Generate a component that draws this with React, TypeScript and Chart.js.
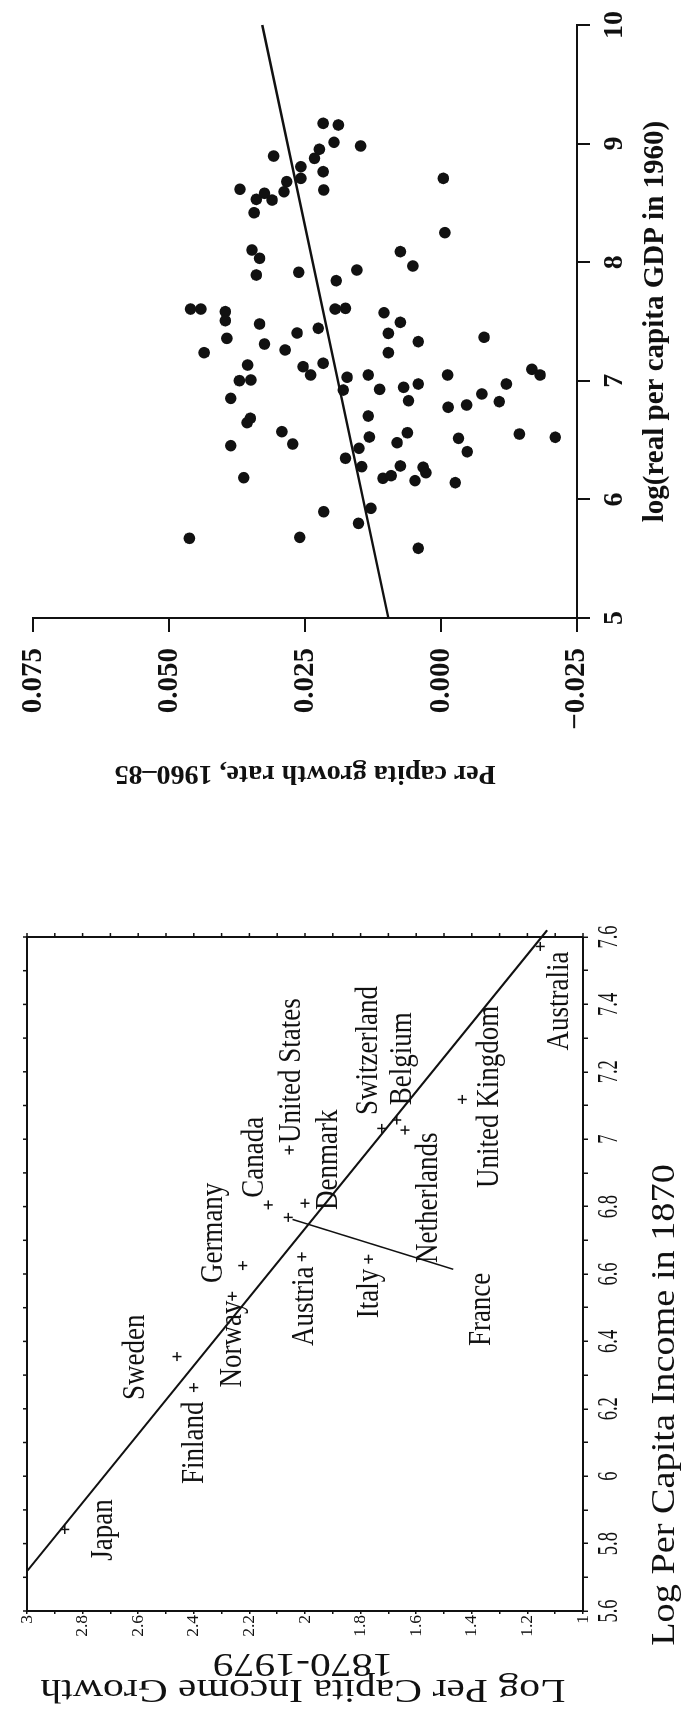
import React, { useEffect, useRef } from "react";
import { Chart, registerables } from "chart.js";

Chart.register(...registerables);

const SERIF = "'Liberation Serif', 'Times New Roman', serif";
const INK = "#111";

// ---------- Upper figure: per capita growth 1960-85 vs log real per capita GDP 1960 ----------
const gdp1960: number[] = [
  9.171, 9.157, 9.011, 8.98, 8.895, 8.952, 8.876, 8.805, 8.763, 8.707,
  8.679, 8.594, 8.609, 8.615, 8.53, 8.581, 8.524, 8.417, 8.103, 8.033,
  7.892, 7.915, 7.844, 7.934, 7.605, 7.605, 7.583, 7.507, 7.479, 7.605,
  7.611, 7.443, 7.403, 8.707, 8.249, 8.089, 7.968, 7.574, 7.493, 7.358,
  7.31, 7.237, 7.26, 7.133, 7.001, 7.007, 7.119, 7.049, 7.148, 7.03,
  6.922, 7.049, 6.852, 6.647, 6.684, 6.571, 6.467, 6.453, 6.183, 6.703,
  6.526, 6.431, 6.347, 6.276, 5.896, 5.798, 5.672, 5.68, 7.4, 7.33,
  7.367, 7.237, 6.928, 6.945, 6.973, 6.832, 7.049, 7.097, 7.049, 6.973,
  6.889, 6.824, 6.777, 6.796, 6.562, 6.478, 6.515, 6.402, 6.551, 6.524,
  6.282, 6.271, 6.225, 6.178, 6.2, 6.158, 6.141, 5.925, 5.588,
];
const growth1960to85: number[] = [
  0.0217, 0.0189, 0.0197, 0.0148, 0.0308, 0.0224, 0.0233, 0.0258, 0.0217, 0.0258,
  0.0284, 0.0289, 0.0216, 0.037, 0.034, 0.0325, 0.0311, 0.0344, 0.0348, 0.0334,
  0.034, 0.0262, 0.0193, 0.0155, 0.0461, 0.0442, 0.0397, 0.0397, 0.0334, 0.0195,
  0.0176, 0.0226, 0.0265, -0.0004, -0.0007, 0.0075, 0.0052, 0.0105, 0.0075, 0.0394,
  0.0325, 0.0436, 0.0287, 0.0356, 0.0371, 0.035, 0.0254, 0.024, 0.0217, 0.0173,
  0.018, 0.0134, 0.0387, 0.0357, 0.0351, 0.0293, 0.0273, 0.0387, 0.0363, 0.0134,
  0.0132, 0.0151, 0.0176, 0.0146, 0.0216, 0.0152, 0.0463, 0.026, 0.0097, 0.0042,
  -0.0079, 0.0097, 0.0113, 0.0069, 0.0042, 0.006, -0.0012, -0.0167, -0.0182, -0.012,
  -0.0075, -0.0107, -0.0013, -0.0047, 0.0062, 0.0081, -0.0032, -0.0048, -0.0144, -0.021,
  0.0075, 0.0033, 0.0028, 0.0107, 0.0092, 0.0048, -0.0026, 0.0129, 0.0042,
];
const fitGdpEnds: number[] = [5, 10];
const fitGrowthEnds: number[] = [0.0097, 0.0329];

// ---------- Lower figure: log per capita income growth 1870-1979 vs log income 1870 ----------
const countries: string[] = [
  "Japan", "Sweden", "Finland", "Norway", "Germany", "Canada", "France", "Denmark",
  "Austria", "Italy", "United States", "Switzerland", "Belgium", "Netherlands",
  "United Kingdom", "Australia",
];
const logIncome1870: number[] = [
  5.842, 6.355, 6.263, 6.534, 6.625, 6.805, 6.768, 6.81,
  6.651, 6.644, 6.968, 7.032, 7.057, 7.027, 7.118, 7.572,
];
const logGrowth1870to1979: number[] = [
  2.864, 2.46, 2.4, 2.262, 2.224, 2.132, 2.06, 2.0,
  2.012, 1.772, 2.057, 1.724, 1.67, 1.64, 1.434, 1.154,
];
// where each country name begins (data units)
const labelAnchorIncome: number[] = [
  5.749, 6.226, 5.977, 6.263, 6.573, 6.826, 6.386, 6.79,
  6.386, 6.469, 6.989, 7.072, 7.101, 6.633, 6.855, 7.263,
];
const labelAnchorGrowth: number[] = [
  2.696, 2.579, 2.367, 2.23, 2.3, 2.151, 1.334, 1.885,
  1.971, 1.737, 2.018, 1.741, 1.62, 1.525, 1.306, 1.054,
];
const fitIncomeEnds: number[] = [5.72, 7.62];
const fitLogGrowthEnds: number[] = [2.998, 1.129];
const leaderIncome: number[] = [6.762, 6.614];
const leaderGrowth: number[] = [2.045, 1.467];
const lowerXTitle = "Log Per Capita Income in 1870";
const lowerYTitle: string[] = ["Log Per Capita Income Growth", "1870-1979"];

// ---------- configs ----------
function topConfig(): any {
  const pts = gdp1960.map((x, i) => ({ x, y: growth1960to85[i] }));
  const fit = fitGdpEnds.map((x, i) => ({ x, y: fitGrowthEnds[i] }));
  return {
    type: "scatter",
    data: {
      datasets: [
        { data: fit, showLine: true, borderColor: INK, borderWidth: 2.5, pointRadius: 0, clip: false },
        { data: pts, pointRadius: 5.8, pointBackgroundColor: INK, pointBorderColor: INK, pointBorderWidth: 0 },
      ],
    },
    options: {
      responsive: false,
      animation: false,
      devicePixelRatio: 1,
      layout: { padding: { left: 0, right: 25, top: 33, bottom: 0 } },
      plugins: { legend: { display: false }, tooltip: { enabled: false } },
      scales: {
        x: {
          type: "linear",
          min: 5,
          max: 10,
          afterFit: (s: any) => { s.height = 109; },
          ticks: {
            stepSize: 1, autoSkip: false, maxRotation: 0, minRotation: 0, padding: 8, color: INK,
            font: { family: SERIF, size: 28, weight: "bold" },
            callback: (v: number) => String(Math.round(v)),
          },
          grid: { display: true, drawOnChartArea: false, drawTicks: true, tickLength: 13, color: INK, lineWidth: 2 },
          border: { display: true, color: INK, width: 2 },
          title: {
            display: true, text: "log(real per capita GDP in 1960)", color: INK,
            font: { family: SERIF, size: 29, weight: "bold", lineHeight: 1.2 }, padding: { top: 0, bottom: 13 },
          },
        },
        y: {
          type: "linear",
          min: -0.025,
          max: 0.075,
          afterFit: (s: any) => { s.width = 182; },
          ticks: {
            stepSize: 0.025, autoSkip: false, padding: 16, color: INK,
            font: { family: SERIF, size: 29, weight: "bold" },
            callback: (v: number) => (v < -1e-9 ? "\u2212" : "") + Math.abs(v).toFixed(3),
          },
          grid: { display: true, drawOnChartArea: false, drawTicks: true, tickLength: 14, color: INK, lineWidth: 2 },
          border: { display: true, color: INK, width: 2 },
          title: {
            display: true, text: "Per capita growth rate, 1960\u201385", color: INK,
            font: { family: SERIF, size: 28, weight: "bold", lineHeight: 1.2 }, padding: { top: 10, bottom: 0 },
          },
        },
      },
    },
  };
}

const lowerDecor = {
  id: "lowerDecor",
  afterDraw(chart: any) {
    const { ctx, chartArea: a } = chart;
    const xs = chart.scales.x;
    const ys = chart.scales.y;
    ctx.save();
    ctx.strokeStyle = INK;
    ctx.fillStyle = INK;
    // remaining two sides of the frame
    ctx.lineWidth = 2;
    ctx.beginPath();
    ctx.moveTo(a.left, a.top);
    ctx.lineTo(a.right, a.top);
    ctx.lineTo(a.right, a.bottom);
    ctx.stroke();
    // mirrored tick marks
    ctx.lineWidth = 1.5;
    xs.ticks.forEach((t: any) => {
      const px = xs.getPixelForValue(t.value);
      ctx.beginPath();
      ctx.moveTo(px, a.top);
      ctx.lineTo(px, a.top - 4);
      ctx.stroke();
    });
    ys.ticks.forEach((t: any) => {
      const py = ys.getPixelForValue(t.value);
      ctx.beginPath();
      ctx.moveTo(a.right, py);
      ctx.lineTo(a.right + 4, py);
      ctx.stroke();
    });
    // x tick labels (tall figures)
    ctx.font = `18.5px ${SERIF}`;
    ctx.textAlign = "center";
    ctx.textBaseline = "alphabetic";
    xs.ticks.forEach((t: any) => {
      const k = Math.round(t.value * 10);
      if (k % 2 !== 0) return;
      ctx.save();
      ctx.translate(xs.getPixelForValue(t.value), a.bottom + 33.5);
      ctx.scale(1, 1.55);
      ctx.fillText(String(k / 10), 0, 0);
      ctx.restore();
    });
    // axis titles (wide lettering)
    ctx.font = `33px ${SERIF}`;
    ctx.textAlign = "center";
    ctx.save();
    ctx.translate(306, a.bottom + 91);
    ctx.scale(1.16, 1);
    ctx.fillText(lowerXTitle, 0, 0);
    ctx.restore();
    ctx.textBaseline = "middle";
    lowerYTitle.forEach((line, i) => {
      ctx.save();
      ctx.translate(22.5 + i * 25.5, (a.top + a.bottom) / 2 - 2);
      ctx.rotate(-Math.PI / 2);
      ctx.scale(1.262, 1);
      ctx.fillText(line, 0, 0);
      ctx.restore();
    });
    // country names
    ctx.font = `27px ${SERIF}`;
    ctx.textAlign = "left";
    ctx.textBaseline = "alphabetic";
    countries.forEach((c, i) => {
      ctx.save();
      ctx.translate(xs.getPixelForValue(labelAnchorIncome[i]), ys.getPixelForValue(labelAnchorGrowth[i]));
      ctx.scale(1, 1.2);
      ctx.fillText(c, 0, 0);
      ctx.restore();
    });
    ctx.restore();
  },
};

function bottomConfig(): any {
  const pts = logIncome1870.map((x, i) => ({ x, y: logGrowth1870to1979[i] }));
  const fit = fitIncomeEnds.map((x, i) => ({ x, y: fitLogGrowthEnds[i] }));
  const leader = leaderIncome.map((x, i) => ({ x, y: leaderGrowth[i] }));
  const tenth = (v: number) => Math.round(v * 10);
  return {
    type: "scatter",
    data: {
      datasets: [
        { data: fit, showLine: true, borderColor: INK, borderWidth: 2, pointRadius: 0, clip: false },
        { data: leader, showLine: true, borderColor: INK, borderWidth: 1.5, pointRadius: 0, clip: false },
        { data: pts, pointStyle: "cross", pointRadius: 4.5, pointBorderWidth: 1.5, pointBorderColor: INK, pointBackgroundColor: INK },
      ],
    },
    options: {
      responsive: false,
      animation: false,
      devicePixelRatio: 1,
      layout: { padding: { left: 0, right: 37, top: 27, bottom: 0 } },
      plugins: { legend: { display: false }, tooltip: { enabled: false } },
      scales: {
        x: {
          type: "linear",
          min: 5.6,
          max: 7.6,
          afterFit: (s: any) => { s.height = 103; },
          ticks: { display: false, stepSize: 0.1, autoSkip: false, maxRotation: 0, minRotation: 0 },
          grid: { display: true, drawOnChartArea: false, drawTicks: true, tickLength: 5, color: INK, lineWidth: 1.5 },
          border: { display: true, color: INK, width: 2 },
          title: { display: false },
        },
        y: {
          type: "linear",
          min: 1,
          max: 3,
          afterFit: (s: any) => { s.width = 100; },
          ticks: {
            stepSize: 0.1, autoSkip: false, padding: 1, color: INK,
            font: { family: SERIF, size: 17.5 },
            callback: (v: number) => (tenth(v) % 2 === 0 ? String(tenth(v) / 10) : ""),
          },
          grid: { display: true, drawOnChartArea: false, drawTicks: true, tickLength: 3, color: INK, lineWidth: 1.5 },
          border: { display: true, color: INK, width: 2 },
          title: { display: false },
        },
      },
    },
    plugins: [lowerDecor],
  };
}

// A chart drawn in its own frame (w x h) and turned a quarter turn counter-clockwise on the page.
function TurnedChart(props: { x0: number; y0: number; w: number; h: number; make: () => any }) {
  const { x0, y0, w, h, make } = props;
  const ref = useRef<HTMLCanvasElement | null>(null);
  useEffect(() => {
    if (!ref.current) return;
    const chart = new Chart(ref.current, make());
    return () => chart.destroy();
  }, []);
  return (
    <div
      style={{
        position: "absolute",
        left: x0,
        top: y0 + w,
        width: w,
        height: h,
        transformOrigin: "0 0",
        transform: "rotate(-90deg)",
      }}
    >
      <canvas ref={ref} width={w} height={h} style={{ width: w, height: h, display: "block" }} />
    </div>
  );
}

export default function App() {
  return (
    <div style={{ position: "absolute", left: 0, top: 0, width: 686, height: 1711, background: "#fff", overflow: "hidden" }}>
      <TurnedChart x0={0} y0={0} w={800} h={686} make={topConfig} />
      <TurnedChart x0={0} y0={900} w={811} h={686} make={bottomConfig} />
    </div>
  );
}
